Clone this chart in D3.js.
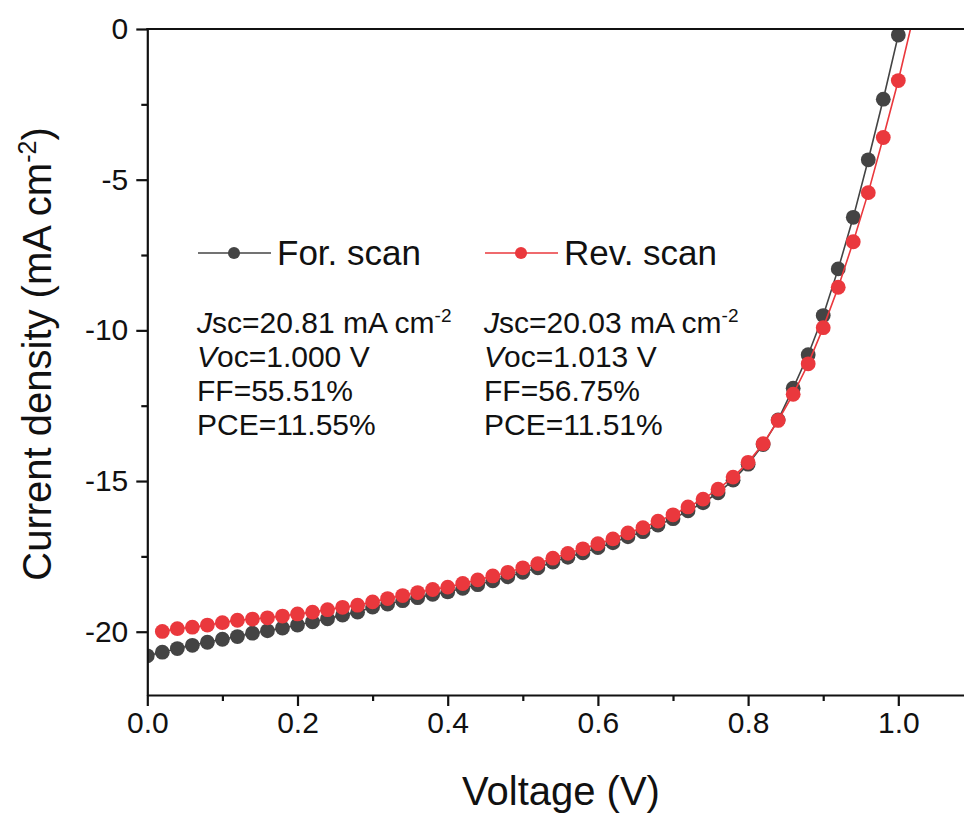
<!DOCTYPE html>
<html>
<head>
<meta charset="utf-8">
<script src="https://cdn.jsdelivr.net/npm/d3@7"></script>
<style>
  body { margin: 0; background: #fff; }
  svg text { font-family: Arial, "Liberation Sans", sans-serif; fill: #111; }
</style>
</head>
<body>
<div id="viz"></div>
<script>
const width = 964;
const height = 814;

// Forward scan: voltage (V) and current density (mA cm-2)
const forVoltage = [0.00, 0.02, 0.04, 0.06, 0.08, 0.10, 0.12, 0.14, 0.16, 0.18,
  0.20, 0.22, 0.24, 0.26, 0.28, 0.30, 0.32, 0.34, 0.36, 0.38,
  0.40, 0.42, 0.44, 0.46, 0.48, 0.50, 0.52, 0.54, 0.56, 0.58,
  0.60, 0.62, 0.64, 0.66, 0.68, 0.70, 0.72, 0.74, 0.76, 0.78,
  0.80, 0.82, 0.84, 0.86, 0.88, 0.90, 0.92, 0.94, 0.96, 0.98, 1.00, 1.02];
const forCurrent = [-20.80, -20.68, -20.56, -20.45, -20.35, -20.25, -20.16, -20.05, -19.97, -19.88,
  -19.78, -19.67, -19.57, -19.45, -19.35, -19.18, -19.08, -18.97, -18.87, -18.76,
  -18.68, -18.56, -18.44, -18.31, -18.18, -18.03, -17.88, -17.69, -17.53, -17.38,
  -17.21, -17.05, -16.85, -16.68, -16.46, -16.25, -15.99, -15.72, -15.39, -14.97,
  -14.44, -13.79, -12.97, -11.92, -10.81, -9.51, -7.96, -6.25, -4.34, -2.33, -0.20, 0.50];

// Reverse scan
const revVoltage = [0.02, 0.04, 0.06, 0.08, 0.10, 0.12, 0.14, 0.16, 0.18,
  0.20, 0.22, 0.24, 0.26, 0.28, 0.30, 0.32, 0.34, 0.36, 0.38,
  0.40, 0.42, 0.44, 0.46, 0.48, 0.50, 0.52, 0.54, 0.56, 0.58,
  0.60, 0.62, 0.64, 0.66, 0.68, 0.70, 0.72, 0.74, 0.76, 0.78,
  0.80, 0.82, 0.84, 0.86, 0.88, 0.90, 0.92, 0.94, 0.96, 0.98, 1.00, 1.02];
const revCurrent = [-19.99, -19.90, -19.85, -19.78, -19.70, -19.62, -19.58, -19.54, -19.48,
  -19.41, -19.35, -19.27, -19.19, -19.12, -19.01, -18.90, -18.80, -18.70, -18.60,
  -18.52, -18.40, -18.28, -18.15, -18.03, -17.88, -17.74, -17.56, -17.40, -17.25,
  -17.08, -16.92, -16.72, -16.55, -16.33, -16.12, -15.86, -15.60, -15.27, -14.87,
  -14.38, -13.76, -12.99, -12.12, -11.11, -9.91, -8.57, -7.06, -5.43, -3.60, -1.71, 0.40];

const xTicks = [0, 0.2, 0.4, 0.6, 0.8, 1.0];
const xMinorTicks = [0.1, 0.3, 0.5, 0.7, 0.9];
const yTicks = [0, -5, -10, -15, -20];
const yMinorTicks = [-2.5, -7.5, -12.5, -17.5];

const series = [
  { label: 'For. scan', color: '#444444', x: forVoltage, y: forCurrent,
    stats: ['20.81', '1.000', '55.51', '11.55'] },
  { label: 'Rev. scan', color: '#ea383d', x: revVoltage, y: revCurrent,
    stats: ['20.03', '1.013', '56.75', '11.51'] }
];

const scaleX = d3.scaleLinear().domain([0, 1.09]).range([147.3, 965.9]);
const scaleY = d3.scaleLinear().domain([-22.1, 0]).range([695, 29]);

const svg = d3.select('#viz')
  .append('svg')
    .attr('width', width)
    .attr('height', height);

svg.append('defs').append('clipPath')
    .attr('id', 'plot-clip')
  .append('rect')
    .attr('x', scaleX.range()[0])
    .attr('y', scaleY.range()[1])
    .attr('width', scaleX.range()[1] - scaleX.range()[0])
    .attr('height', scaleY.range()[0] - scaleY.range()[1]);

// Data
const plot = svg.append('g').attr('clip-path', 'url(#plot-clip)');
const line = d3.line()
  .x(d => scaleX(d[0]))
  .y(d => scaleY(d[1]));

series.forEach(s => {
  const pts = s.x.map((v, i) => [v, s.y[i]]);
  const g = plot.append('g');
  g.append('path')
    .attr('d', line(pts))
    .attr('fill', 'none')
    .attr('stroke', s.color)
    .attr('stroke-width', 1.6);
  g.selectAll('circle')
    .data(pts)
    .join('circle')
      .attr('cx', d => scaleX(d[0]))
      .attr('cy', d => scaleY(d[1]))
      .attr('r', 7.4)
      .attr('fill', s.color);
});

// Axes
const styleAxis = (g, fontSize) => {
  g.select('.domain').attr('stroke', '#111').attr('stroke-width', 2.2);
  g.selectAll('.tick line').attr('stroke', '#111').attr('stroke-width', 2.2);
  g.selectAll('.tick text')
    .style('font-family', 'Arial, "Liberation Sans", sans-serif')
    .style('font-size', fontSize + 'px')
    .attr('fill', '#111');
};

const xAxis = svg.append('g')
  .attr('transform', `translate(0,${scaleY.range()[0]})`)
  .call(d3.axisBottom(scaleX).tickValues(xTicks).tickFormat(d3.format('.1f'))
    .tickSize(11).tickSizeOuter(0).tickPadding(6));
styleAxis(xAxis, 30);
const xMinor = svg.append('g')
  .attr('transform', `translate(0,${scaleY.range()[0]})`)
  .call(d3.axisBottom(scaleX).tickValues(xMinorTicks).tickFormat('').tickSize(6).tickSizeOuter(0));
styleAxis(xMinor, 30);
xMinor.select('.domain').remove();

const yAxis = svg.append('g')
  .attr('transform', `translate(${scaleX.range()[0]},0)`)
  .call(d3.axisLeft(scaleY).tickValues(yTicks).tickFormat(d => String(d))
    .tickSize(11).tickSizeOuter(0).tickPadding(8));
styleAxis(yAxis, 30);
const yMinor = svg.append('g')
  .attr('transform', `translate(${scaleX.range()[0]},0)`)
  .call(d3.axisLeft(scaleY).tickValues(yMinorTicks).tickFormat('').tickSize(6).tickSizeOuter(0));
styleAxis(yMinor, 30);
yMinor.select('.domain').remove();

// top frame line
svg.append('line')
  .attr('x1', scaleX.range()[0] - 1.1)
  .attr('x2', width)
  .attr('y1', scaleY.range()[1])
  .attr('y2', scaleY.range()[1])
  .attr('stroke', '#111')
  .attr('stroke-width', 2.2);

// Axis titles
svg.append('text')
  .attr('x', 561)
  .attr('y', 805)
  .attr('text-anchor', 'middle')
  .style('font-size', '40px')
  .text('Voltage (V)');

const yTitle = svg.append('text')
  .attr('text-anchor', 'middle')
  .attr('transform', 'translate(51, 354) rotate(-90)')
  .style('font-size', '40px');
yTitle.append('tspan').text('Current density (mA cm');
yTitle.append('tspan').attr('dy', -15).style('font-size', '25px').text('-2');
yTitle.append('tspan').attr('dy', 15).text(')');

// Legend
const legendX = [198, 485];
series.forEach((s, i) => {
  const lg = svg.append('g').attr('transform', `translate(${legendX[i]},253)`);
  lg.append('line')
    .attr('x1', 0).attr('x2', 73)
    .attr('stroke', s.color).attr('stroke-width', 1.6);
  lg.append('circle')
    .attr('cx', 36).attr('r', 6)
    .attr('fill', s.color);
  lg.append('text')
    .attr('x', 79).attr('y', 12)
    .style('font-size', '35px')
    .text(s.label);

  // stats block
  const st = svg.append('g').attr('transform', `translate(${legendX[i] - 1},0)`);
  const fs = '30px';
  const t1 = st.append('text').attr('y', 333).style('font-size', fs);
  t1.append('tspan').style('font-style', 'italic').text('J');
  t1.append('tspan').text('sc=' + s.stats[0] + ' mA cm');
  t1.append('tspan').attr('dy', -11).style('font-size', '19px').text('-2');
  const t2 = st.append('text').attr('y', 367).style('font-size', fs);
  t2.append('tspan').style('font-style', 'italic').text('V');
  t2.append('tspan').text('oc=' + s.stats[1] + ' V');
  st.append('text').attr('y', 401).style('font-size', fs).text('FF=' + s.stats[2] + '%');
  st.append('text').attr('y', 435).style('font-size', fs).text('PCE=' + s.stats[3] + '%');
});
</script>
</body>
</html>
